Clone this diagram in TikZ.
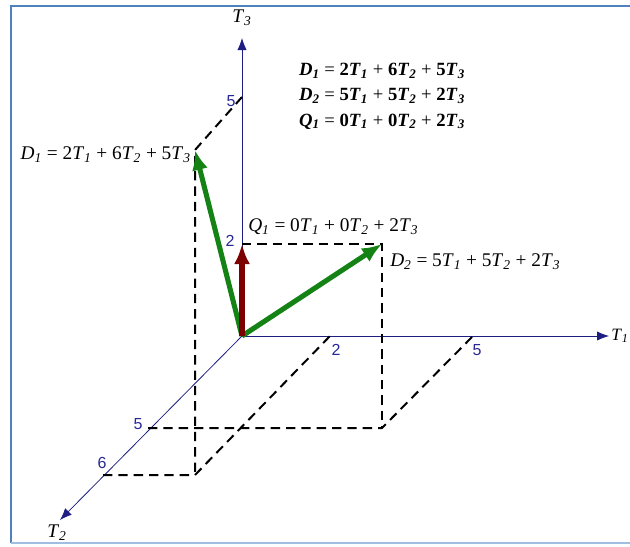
\documentclass[tikz,border=0pt]{standalone}
\usepackage{fontspec}
\setmainfont{Liberation Serif}
\newfontfamily\ticksans{Liberation Sans}
\usetikzlibrary{arrows.meta}
\definecolor{axisblue}{RGB}{30,30,130}
\definecolor{tickblue}{RGB}{40,40,150}
\definecolor{framedark}{RGB}{79,129,189}
\definecolor{framelight}{RGB}{160,190,225}
\definecolor{vecgreen}{RGB}{20,130,20}
\definecolor{vecred}{RGB}{125,0,0}
\newcommand{\tv}[2]{\textit{#1}\textsubscript{\textit{#2}}}
\newcommand{\tvb}[2]{\textbf{\textit{#1}\textsubscript{\textit{#2}}}}
\begin{document}
\begin{tikzpicture}[x=0.75pt,y=-0.75pt,
  axis/.style={axisblue, line width=0.6pt, -{Latex[length=9pt,width=7pt]}},
  guide/.style={line width=1.5pt, dash pattern=on 7pt off 4.5pt},
  vec/.style={line width=3.8pt, -{Latex[length=15pt,width=12pt]}},
  tick/.style={text=tickblue, font=\ticksans\fontsize{12}{14}\selectfont, inner sep=1pt},
  eq/.style={font=\fontsize{14.5}{17}\selectfont, inner sep=0pt}]
\useasboundingbox (0,0) rectangle (630,546);
\clip (0,0) rectangle (630,546);
% frame
\draw[framedark, line width=1.6pt] (11,543) -- (11,6) -- (640,6);
\draw[framelight, line width=1.4pt] (11,543) -- (640,543);
% axes
\coordinate (O) at (242,336);
\coordinate (t1end) at (609,336);
\coordinate (t2end) at (60,520);
\coordinate (t3end) at (242,38);
\draw[axis] (O) -- (t1end);
\draw[axis] (O) -- (t2end);
\draw[axis] (O) -- (t3end);
\node[eq, anchor=west, inner sep=0pt, font=\fontsize{13}{15}\selectfont] (t1lab) at (611,336) {\tv{T}{1}};
\node[eq, inner sep=1pt] (t2lab) at (57,533) {\tv{T}{2}};
\node[eq, inner sep=1pt] (t3lab) at (242,18) {\tv{T}{3}};
% ticks
\coordinate (a2) at (330,336);
\coordinate (a5) at (473,336);
\coordinate (b5) at (148,428);
\coordinate (b6) at (103,475);
\coordinate (c2) at (242,244);
\coordinate (c5) at (242,97);
\node[tick] (a2lab) at (336,350) {2};
\node[tick] (a5lab) at (477,350) {5};
\node[tick] (b5lab) at (138,424) {5};
\node[tick] (b6lab) at (102,463) {6};
\node[tick] (c2lab) at (230,241) {2};
\node[tick] (c5lab) at (231,101) {5};
% vector tips and guide corners
\coordinate (d1) at (195,150);
\coordinate (d2) at (382,244);
\coordinate (d1foot) at (195,475);
\coordinate (d2foot) at (382,428);
\draw[guide] (c5) -- (d1) -- (d1foot);
\draw[guide] (b6) -- (d1foot) -- (a2);
\draw[guide] (c2) -- (d2) -- (d2foot);
\draw[guide] (b5) -- (d2foot) -- (a5);
% vectors
\draw[vec, vecgreen] (O) -- (d1);
\draw[vec, vecgreen] (O) -- (d2);
\draw[vec, vecred] (O) -- (c2);
% labels
\node[eq, anchor=east] (d1lab) at (191,155) {\tv{D}{1} = 2\tv{T}{1} + 6\tv{T}{2} + 5\tv{T}{3}};
\node[eq, anchor=west] (q1lab) at (248,227) {\tv{Q}{1} = 0\tv{T}{1} + 0\tv{T}{2} + 2\tv{T}{3}};
\node[eq, anchor=west] (d2lab) at (390,262) {\tv{D}{2} = 5\tv{T}{1} + 5\tv{T}{2} + 2\tv{T}{3}};
\node[eq, align=left, font=\fontsize{14}{19}\selectfont] (sumlab) at (382,96)
  {\tvb{D}{1} = \textbf{2}\tvb{T}{1} + \textbf{6}\tvb{T}{2} + \textbf{5}\tvb{T}{3}\\
   \tvb{D}{2} = \textbf{5}\tvb{T}{1} + \textbf{5}\tvb{T}{2} + \textbf{2}\tvb{T}{3}\\
   \tvb{Q}{1} = \textbf{0}\tvb{T}{1} + \textbf{0}\tvb{T}{2} + \textbf{2}\tvb{T}{3}};
\end{tikzpicture}
\end{document}
